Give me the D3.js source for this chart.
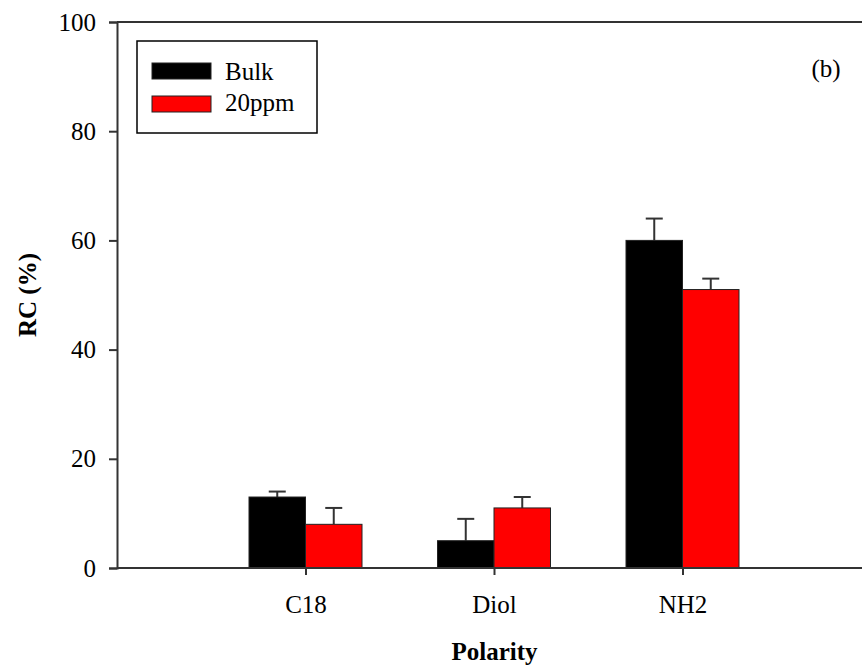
<!DOCTYPE html>
<html>
<head>
<meta charset="utf-8">
<title>RC by polarity</title>
<style type="text/css">
* { margin: 0; padding: 0; }
body { background: #fff; }
text { font-family: "Liberation Serif", "Times New Roman", serif; fill: #000; }
</style>
<script src="https://cdn.jsdelivr.net/npm/d3@7"></script>
</head>
<body>
<div id="chart"></div>
<script type="text/javascript">
// values
var categories = ["", "C18", "Diol", "NH2", " "];
var seriesNames = ["Bulk", "20ppm"];
var seriesColors = ["#000000", "#ff0000"];
var bulkValues = [13, 5, 60];
var bulkErrors = [1, 4, 4];
var ppmValues = [8, 11, 51];
var ppmErrors = [3, 2, 2];
var yTicks = [0, 20, 40, 60, 80, 100];

var W = 862, H = 668;
var left = 117, step = 188.5;

var svg = d3.select("#chart").append("svg")
  .attr("width", W).attr("height", H);

// categories sit on evenly spaced points, first/last are empty slots
var x = d3.scalePoint()
  .domain(categories)
  .range([left, left + step * (categories.length - 1)]);

var y = d3.scaleLinear().domain([0, 100]).range([568, 22]);

var barW = 56.5;
var cats = categories.slice(1, 4);

// top frame line
svg.append("line")
  .attr("x1", left).attr("x2", W + 10)
  .attr("y1", y(100)).attr("y2", y(100))
  .attr("stroke", "#333").attr("stroke-width", 2);

var series = [
  { name: seriesNames[0], color: seriesColors[0], values: bulkValues, errors: bulkErrors, off: -barW },
  { name: seriesNames[1], color: seriesColors[1], values: ppmValues, errors: ppmErrors, off: 0 }
];

series.forEach(function(s) {
  var g = svg.append("g");
  cats.forEach(function(c, i) {
    var v = s.values[i], e = s.errors[i];
    var bx = x(c) + s.off;
    var ex = bx + barW / 2;
    // upper error bar
    g.append("line")
      .attr("x1", ex).attr("x2", ex)
      .attr("y1", y(v)).attr("y2", y(v + e))
      .attr("stroke", "#333").attr("stroke-width", 2);
    g.append("line")
      .attr("x1", ex - 8.5).attr("x2", ex + 8.5)
      .attr("y1", y(v + e)).attr("y2", y(v + e))
      .attr("stroke", "#333").attr("stroke-width", 2);
    g.append("rect")
      .attr("x", bx).attr("y", y(v))
      .attr("width", barW).attr("height", y(0) - y(v))
      .attr("fill", s.color)
      .attr("stroke", "#222").attr("stroke-width", 1);
  });
});

// y axis
var gy = svg.append("g")
  .attr("transform", "translate(" + left + ",0)")
  .call(d3.axisLeft(y).tickValues(yTicks).tickSize(8).tickPadding(13));
gy.select(".domain").attr("stroke", "#333").attr("stroke-width", 2);
gy.selectAll(".tick line").attr("stroke", "#333").attr("stroke-width", 2);
gy.selectAll(".tick text")
  .attr("font-family", "Liberation Serif").attr("font-size", 25).attr("fill", "#000");

// x axis
var gx = svg.append("g")
  .attr("transform", "translate(0," + y(0) + ")")
  .call(d3.axisBottom(x).tickValues(cats).tickSize(7).tickPadding(20).tickSizeOuter(0));
gx.select(".domain").attr("stroke", "#333").attr("stroke-width", 2)
  .attr("d", "M" + left + ",0H" + (W + 10));
gx.selectAll(".tick line").attr("stroke", "#333").attr("stroke-width", 2);
gx.selectAll(".tick text")
  .attr("font-family", "Liberation Serif").attr("font-size", 25).attr("fill", "#000");

// axis titles
svg.append("text")
  .attr("x", 494.5).attr("y", 660)
  .attr("text-anchor", "middle")
  .attr("font-size", 25).attr("font-weight", "bold")
  .text("Polarity");

svg.append("text")
  .attr("transform", "translate(36,295) rotate(-90)")
  .attr("text-anchor", "middle")
  .attr("font-size", 25).attr("font-weight", "bold")
  .text("RC (%)");

// panel label
svg.append("text")
  .attr("x", 826).attr("y", 77)
  .attr("text-anchor", "middle")
  .attr("font-size", 25)
  .text("(b)");

// legend
var lg = svg.append("g").attr("transform", "translate(137,41)");
lg.append("rect")
  .attr("width", 180).attr("height", 92)
  .attr("fill", "#fff").attr("stroke", "#000").attr("stroke-width", 1.5);
series.forEach(function(s, i) {
  lg.append("rect")
    .attr("x", 15).attr("y", 22 + i * 33)
    .attr("width", 59).attr("height", 16)
    .attr("fill", s.color).attr("stroke", "#222").attr("stroke-width", 1);
  lg.append("text")
    .attr("x", 88).attr("y", 39 + i * 31)
    .attr("font-size", 25)
    .text(s.name);
});
</script>
</body>
</html>
